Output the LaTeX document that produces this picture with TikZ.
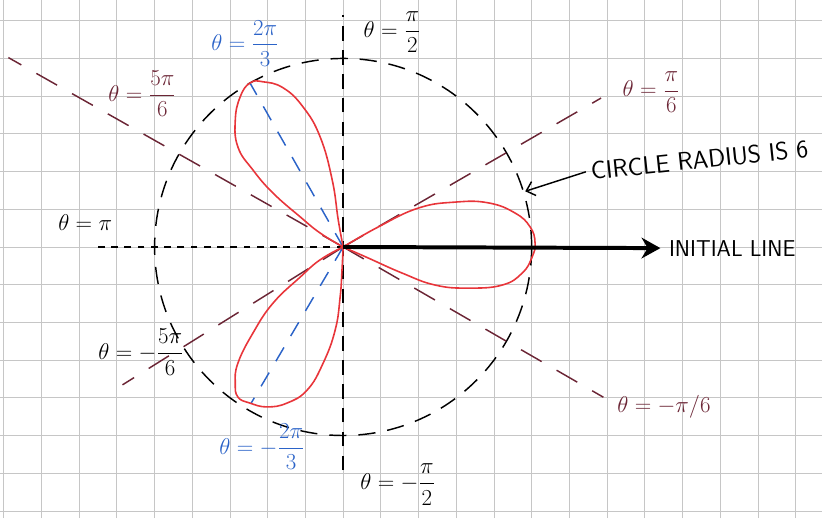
\documentclass[tikz,border=0pt]{standalone}
\usepackage{amsmath}
\usepackage{xcolor}
\definecolor{gridgrey}{HTML}{C6C6C6}
\definecolor{penred}{HTML}{E8353A}
\definecolor{penblue}{HTML}{2B63C8}
\definecolor{penplum}{HTML}{6B2535}
\usepackage{tikz}
\usetikzlibrary{arrows.meta}

\begin{document}
\begin{tikzpicture}[
  pen/.style={line width=1.1pt},
  lbl/.style={font=\LARGE,inner sep=1pt},
  note/.style={font=\sffamily\LARGE},
  plumdash/.style={pen,penplum,dash pattern=on 18pt off 13pt},
  bluedash/.style={pen,penblue,dash pattern=on 12pt off 10pt},
  petal/.style={penred,line width=1.2pt}]
  % squared paper
  \useasboundingbox (-9.1,-7.19) rectangle (12.7,6.55);
  \draw[gridgrey,line width=0.6pt] (-9.1,-7.19) grid (12.7,6.55);
  \coordinate (O) at (0,0);
  % theta = pi/2, -pi/2 and pi
  \coordinate (up) at (0,6.15);
  \coordinate (down) at (0,-5.92);
  \coordinate (back) at (-6.66,0);
  \draw[pen,dash pattern=on 11pt off 7pt] (down) -- (up);
  \draw[pen,dash pattern=on 5pt off 5pt] (O) -- (back);
  % circle r = 6
  \draw[pen,dash pattern=on 13pt off 9pt] (O) circle (5);
  % half-lines at pi/6, -pi/6, 5pi/6, -5pi/6
  \foreach \n/\a/\r in {a/30/7.9,b/-30/7.97,c/150.5/10.2,d/212/6.9} {
    \coordinate (end\n) at (\a:\r);
    \draw[plumdash] (O) -- (end\n);
  }
  % petal tips
  \coordinate (tipU) at (-2.47,4.35);
  \coordinate (tipD) at (-2.45,-4.16);
  \draw[bluedash] (O) -- (tipU);
  \draw[bluedash] (O) -- (tipD);
  % the three loops
  \draw[petal] plot[smooth,tension=0.75] coordinates {(0,0) (0.93,0.53) (1.99,1.03)
    (2.97,1.19) (3.85,1.17) (4.56,0.9) (4.96,0.53) (5.09,0.11) (5.01,-0.27)
    (4.75,-0.69) (4.22,-1.01) (3.32,-1.09) (2.44,-1.01) (1.56,-0.69) (0.66,-0.29) (0,0)};
  \draw[petal] plot[smooth,tension=0.75] coordinates {(0,0) (-0.13,0.72) (-0.29,1.78)
    (-0.61,2.92) (-1.06,3.71) (-1.59,4.22) (-2.12,4.38) (-2.47,4.35) (-2.73,3.98)
    (-2.86,3.37) (-2.79,2.65) (-2.39,2.04) (-1.86,1.43) (-1.14,0.8) (-0.61,0.37) (0,0)};
  \draw[petal] plot[smooth,tension=0.75] coordinates {(0,0) (-0.61,-0.34) (-1.14,-0.8)
    (-1.86,-1.49) (-2.39,-2.28) (-2.79,-3.08) (-2.86,-3.61) (-2.79,-3.98) (-2.47,-4.14)
    (-2.02,-4.24) (-1.49,-4.14) (-0.95,-3.79) (-0.53,-3.08) (-0.21,-2.2) (-0.08,-1.33)
    (-0.03,-0.61) (0,0)};
  % initial line
  \node[note] (initial) at (10.32,-0.03) {INITIAL LINE};
  \draw[line width=3pt,-{Stealth[length=0.5cm,width=0.55cm]}] (O) -- ([xshift=-3pt]initial.west);
  % labels
  \node[lbl,anchor=north] (halfpi) at (1.3,6.28) {$\theta=\dfrac{\pi}{2}$};
  \node[lbl] (mhalfpi) at (1.45,-6.3) {$\theta=-\dfrac{\pi}{2}$};
  \node[lbl] (pi) at (-6.84,0.66) {$\theta=\pi$};
  \node[lbl,penplum] (fivesix) at (-5.33,4.06) {$\theta=\dfrac{5\pi}{6}$};
  \node[lbl] (mfivesix) at (-5.36,-2.79) {$\theta=-\dfrac{5\pi}{6}$};
  \node[lbl,penplum] (sixth) at (8.17,4.11) {$\theta=\dfrac{\pi}{6}$};
  \node[lbl,penplum] (msixth) at (8.51,-4.24) {$\theta=-\pi/6$};
  \node[lbl,penblue] (twothird) at (-2.6,5.4) {$\theta=\dfrac{2\pi}{3}$};
  \node[lbl,penblue] (mtwothird) at (-2.15,-5.3) {$\theta=-\dfrac{2\pi}{3}$};
  % radius note
  \node[note,rotate=6,scale=1.1] (radius) at (9.45,2.31) {CIRCLE RADIUS IS 6};
  \coordinate (oncircle) at (17:5.05);
  \draw[pen,-{Straight Barb[length=6pt,width=11pt]}] (radius.west) -- (oncircle);
\end{tikzpicture}
\end{document}
